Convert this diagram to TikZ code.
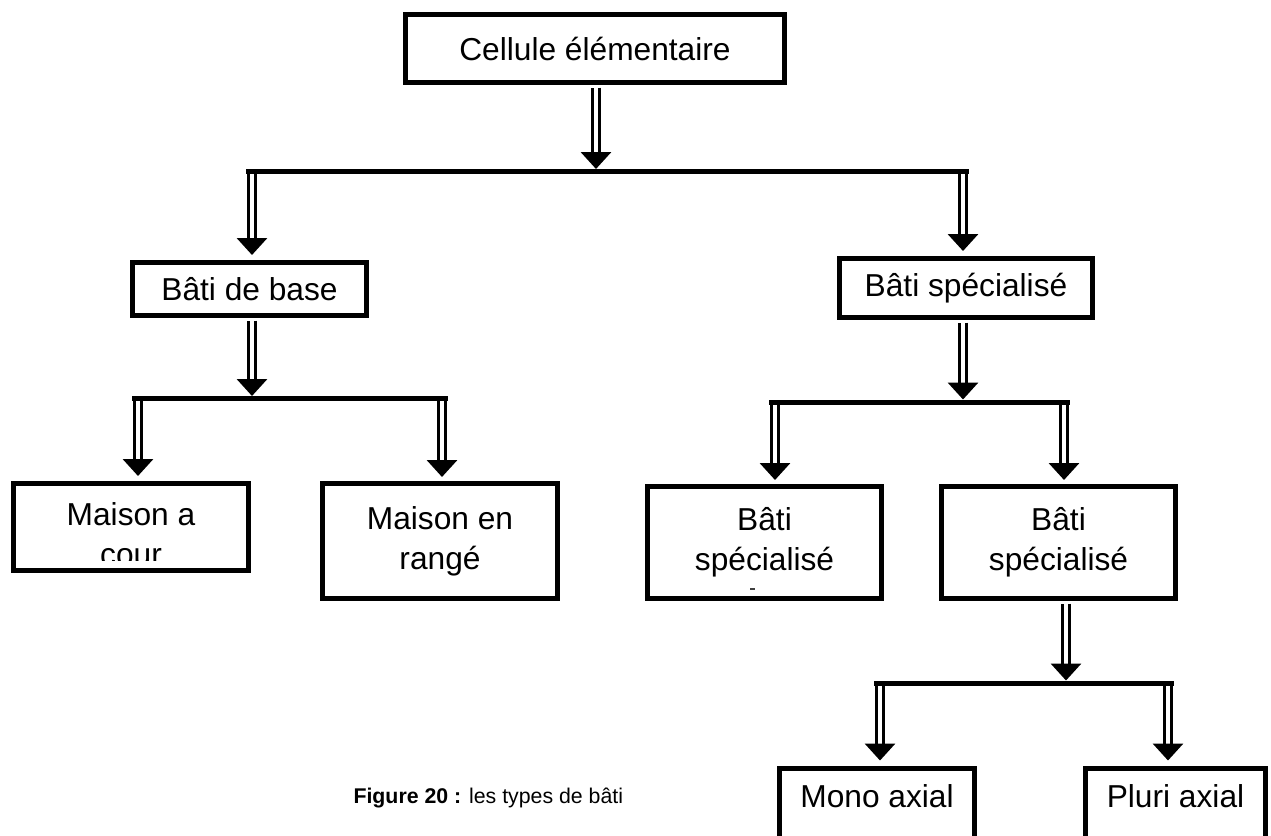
\documentclass[tikz,border=0pt]{standalone}
\usepackage{fontspec}
\setmainfont{Liberation Sans}
\usetikzlibrary{arrows.meta,calc,positioning}

\begin{document}
\begin{tikzpicture}[
  x=1pt,y=-1pt,
  font=\fontsize{31.7}{40}\selectfont,
  box/.style={draw=black, line width=5pt, fill=white, align=center,
              inner sep=0pt},
  bus/.style={line width=5pt, draw=black},
  dbl/.style={draw=black, line width=3.5pt, double=white, double distance=3.5pt,
              -{Triangle[length=17pt,width=30pt]}},
  caption/.style={font=\fontsize{21.3}{26}\selectfont, anchor=base west}
]
\useasboundingbox (0,0) rectangle (1271,835);

\node[box, minimum width=379pt, minimum height=68pt] (cell) at (595,48.5)
  {Cellule élémentaire};

\node[box, minimum width=234pt, minimum height=53pt, text depth=-4pt] (base) at (249.5,289)
  {Bâti de base};
\node[box, minimum width=253pt, minimum height=59pt] (spec) at (966,288)
  {Bâti spécialisé};

\node[box, minimum width=235pt, minimum height=87pt] (cour) at (131,527) {};
\begin{scope}
  \clip (cour.north west) rectangle ($(cour.south east)+(0,-12.5)$);
  \node[align=center, inner sep=0pt] (courtxt) at ($(cour)+(0,7.5)$)
    {Maison a\\cour};
\end{scope}
\node[box, minimum width=235pt, minimum height=115pt] (range) at (440,541)
  {Maison en\\rangé};

\node[box, minimum width=234pt, minimum height=112pt] (specA) at (764.5,542.5)
  {Bâti\\spécialisé};
\fill[black!75] (750,587.5) rectangle (755,589.5);
\node[box, minimum width=234pt, minimum height=112pt] (specB) at (1058.5,542.5)
  {Bâti\\spécialisé};

\node[box, anchor=north, minimum width=195pt, inner ysep=16pt,
      text height=23pt, text depth=80pt] (mono) at (877,765.5) {Mono axial};
\node[box, anchor=north, minimum width=180pt, inner ysep=16pt,
      text height=23pt, text depth=80pt] (pluri) at (1175.5,765.5) {Pluri axial};

\coordinate (j1) at (596,171.5);
\coordinate (j1l) at (252,171.5);
\coordinate (j1r) at (963,171.5);
\coordinate (j2) at (252,398.5);
\coordinate (j2l) at (138,398.5);
\coordinate (j2r) at (442,398.5);
\coordinate (j3) at (963,402);
\coordinate (j3l) at (775,402);
\coordinate (j3r) at (1064,402);
\coordinate (j4) at (1066,683);
\coordinate (j4l) at (880,683);
\coordinate (j4r) at (1168,683);

\draw[dbl, shorten >=2.5pt] ($(j1 |- cell.south)+(0,2.5)$) -- (j1);
\draw[dbl, shorten >=5pt] (j1l) -- (j1l |- base.north);
\draw[dbl, shorten >=5pt] (j1r) -- (j1r |- spec.north);

\draw[dbl, shorten >=2.5pt] ($(j2 |- base.south)+(0,2.5)$) -- (j2);
\draw[dbl, shorten >=5pt] (j2l) -- (j2l |- cour.north);
\draw[dbl, shorten >=4pt] (j2r) -- (j2r |- range.north);

\draw[dbl, shorten >=2.5pt] ($(j3 |- spec.south)+(0,2.5)$) -- (j3);
\draw[dbl, shorten >=4pt] (j3l) -- (j3l |- specA.north);
\draw[dbl, shorten >=4pt] (j3r) -- (j3r |- specB.north);

\draw[dbl, shorten >=2.5pt] ($(j4 |- specB.south)+(0,2.5)$) -- (j4);
\draw[dbl, shorten >=5pt] (j4l) -- (j4l |- mono.north);
\draw[dbl, shorten >=5pt] (j4r) -- (j4r |- pluri.north);

\draw[bus] ($(j1l)+(-6,0)$) -- ($(j1r)+(6,0)$);
\draw[bus] ($(j2l)+(-6,0)$) -- ($(j2r)+(6,0)$);
\draw[bus] ($(j3l)+(-6,0)$) -- ($(j3r)+(6,0)$);
\draw[bus] ($(j4l)+(-6,0)$) -- ($(j4r)+(6,0)$);

\node[caption] (cap) at (350,803) {\textbf{Figure 20 :} les types de bâti};
\end{tikzpicture}
\end{document}
